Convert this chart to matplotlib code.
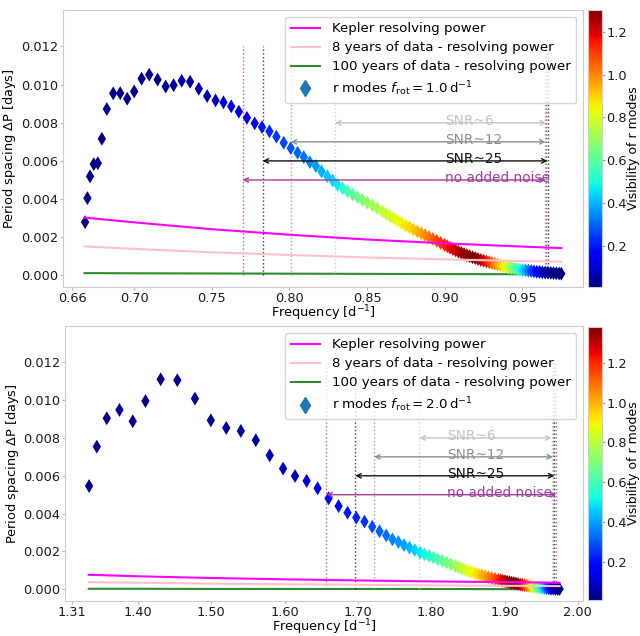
import numpy as np
import matplotlib
matplotlib.use('Agg')
import matplotlib.pyplot as plt
from matplotlib.lines import Line2D
from matplotlib.ticker import FormatStrFormatter

plt.rcParams['font.family'] = 'DejaVu Sans'
plt.rcParams['font.size'] = 9.3

# ---- top panel, f_rot = 1.0 d^-1 ----
freq_top = [0.6684, 0.6699, 0.6716, 0.6740, 0.6766, 0.6792, 0.6824, 0.6865, 0.6910, 0.6955,
            0.7000, 0.7048, 0.7097, 0.7151, 0.7203, 0.7254, 0.7306, 0.7360, 0.7416, 0.7470,
            0.7524, 0.7575, 0.7625, 0.7674, 0.7726, 0.7776, 0.7823, 0.7871, 0.7916, 0.7963,
            0.8008, 0.8052, 0.8092, 0.8131, 0.8170, 0.8206, 0.8243, 0.8278, 0.8310,
            0.8342, 0.8374, 0.8406, 0.8438, 0.8470, 0.8502, 0.8534, 0.8566, 0.8598,
            0.8623, 0.8648, 0.8673, 0.8698, 0.8723, 0.8748, 0.8773, 0.8798, 0.8823, 0.8848,
            0.8873, 0.8898, 0.8923, 0.8948, 0.8973, 0.8998,
            0.9016, 0.9034, 0.9052, 0.9070, 0.9088, 0.9106, 0.9124, 0.9142, 0.9160, 0.9178,
            0.9196, 0.9214, 0.9232, 0.9250, 0.9268, 0.9286, 0.9304, 0.9322, 0.9340, 0.9358,
            0.9376, 0.9394, 0.9412, 0.9430, 0.9448, 0.9466, 0.9484, 0.9502, 0.9520, 0.9538,
            0.9556, 0.9574, 0.9592, 0.9610, 0.9628, 0.9646, 0.9664, 0.9682, 0.9700, 0.9718,
            0.9736, 0.9750]
dp_top = [0.00279, 0.00405, 0.00519, 0.00583, 0.00588, 0.00716, 0.00872, 0.00954, 0.00955, 0.00926,
          0.00964, 0.01031, 0.01052, 0.01026, 0.00990, 0.00997, 0.01020, 0.01015, 0.00978, 0.00940,
          0.00917, 0.00907, 0.00886, 0.00858, 0.00826, 0.00797, 0.00777, 0.00755, 0.00727, 0.00695,
          0.00667, 0.00643, 0.00620, 0.00594, 0.00573, 0.00545, 0.00520, 0.00498, 0.00475,
          0.00457, 0.00441, 0.00425, 0.00410, 0.00395, 0.00380, 0.00366, 0.00351, 0.00335,
          0.00323, 0.00311, 0.00299, 0.00286, 0.00274, 0.00262, 0.00251, 0.00241, 0.00231, 0.00221,
          0.00211, 0.00201, 0.00191, 0.00181, 0.00170, 0.00160,
          0.00153, 0.00145, 0.00138, 0.00131, 0.00124, 0.00118, 0.00112, 0.00106, 0.00101, 0.00095,
          0.00091, 0.00086, 0.00081, 0.00077, 0.00073, 0.00069, 0.00065, 0.00061, 0.00057, 0.00053,
          0.00049, 0.00045, 0.00042, 0.00039, 0.00036, 0.00033, 0.00030, 0.00028, 0.00027, 0.00025,
          0.00023, 0.00021, 0.00019, 0.00018, 0.00016, 0.00015, 0.00014, 0.00013, 0.00012, 0.00011,
          0.00010, 0.00009]
vis_top = [0.02, 0.02, 0.02, 0.02, 0.02, 0.02, 0.03, 0.03, 0.03, 0.03,
           0.03, 0.03, 0.04, 0.04, 0.04, 0.05, 0.05, 0.05, 0.06, 0.07,
           0.08, 0.10, 0.12, 0.14, 0.16, 0.18, 0.20, 0.22, 0.24, 0.26,
           0.28, 0.30, 0.32, 0.34, 0.37, 0.39, 0.42, 0.44, 0.47,
           0.52, 0.56, 0.60, 0.63, 0.66, 0.69, 0.71, 0.73, 0.76,
           0.78, 0.79, 0.81, 0.83, 0.85, 0.87, 0.89, 0.91, 0.94, 0.96,
           0.99, 1.02, 1.05, 1.08, 1.11, 1.13,
           1.14, 1.17, 1.19, 1.21, 1.23, 1.25, 1.27, 1.28, 1.29, 1.30,
           1.30, 1.28, 1.25, 1.21, 1.16, 1.11, 1.06, 1.01, 0.96, 0.91,
           0.86, 0.80, 0.74, 0.68, 0.62, 0.56, 0.50, 0.44, 0.38, 0.32,
           0.26, 0.21, 0.16, 0.12, 0.09, 0.06, 0.04, 0.03, 0.02, 0.01,
           0.01, 0.01]

res_f_top = [0.668, 0.70, 0.75, 0.80, 0.85, 0.90, 0.95, 0.975]
kepler_top = [0.00303, 0.00278, 0.00242, 0.00213, 0.00188, 0.00168, 0.00151, 0.00143]
yr8_top = [0.00152, 0.00139, 0.00121, 0.00107, 0.00094, 0.00084, 0.00075, 0.00072]
yr100_top = [0.00012, 0.00011, 0.00010, 0.00009, 0.00008, 0.00007, 0.00006, 0.00006]

# ---- bottom panel, f_rot = 2.0 d^-1 ----
freq_bot = [1.3335, 1.3440, 1.3576, 1.3749, 1.3930, 1.4103, 1.4311, 1.4538, 1.4778, 1.4995,
            1.5205, 1.5404, 1.5608, 1.5798, 1.5980, 1.6143, 1.6301, 1.6451, 1.6600, 1.6737,
            1.6859, 1.6978, 1.7090, 1.7195, 1.7295, 1.7386, 1.7471, 1.7553, 1.7630, 1.7703,
            1.7776, 1.7848,
            1.7910, 1.7970, 1.8030, 1.8090, 1.8150, 1.8210, 1.8270, 1.8330,
            1.8375, 1.8420, 1.8465, 1.8510, 1.8555, 1.8600, 1.8645, 1.8690, 1.8735, 1.8780,
            1.8825, 1.8870, 1.8915,
            1.8945, 1.8975, 1.9005, 1.9035, 1.9065, 1.9095, 1.9125, 1.9155, 1.9185, 1.9215,
            1.9245, 1.9275, 1.9305, 1.9335, 1.9365, 1.9395, 1.9425, 1.9455, 1.9485, 1.9515,
            1.9545, 1.9575, 1.9605, 1.9635, 1.9665, 1.9695, 1.9725, 1.9750]
dp_bot = [0.00546, 0.00754, 0.00904, 0.00948, 0.00888, 0.00995, 0.01110, 0.01105, 0.01008, 0.00893,
          0.00853, 0.00837, 0.00788, 0.00708, 0.00638, 0.00599, 0.00573, 0.00534, 0.00481, 0.00440,
          0.00405, 0.00379, 0.00358, 0.00331, 0.00307, 0.00285, 0.00264, 0.00250, 0.00234, 0.00220,
          0.00208, 0.00194,
          0.00185, 0.00177, 0.00168, 0.00159, 0.00150, 0.00141, 0.00132, 0.00123,
          0.00116, 0.00110, 0.00103, 0.00097, 0.00091, 0.00085, 0.00079, 0.00074, 0.00069, 0.00064,
          0.00059, 0.00055, 0.00050,
          0.00048, 0.00045, 0.00043, 0.00040, 0.00038, 0.00035, 0.00033, 0.00031, 0.00028, 0.00026,
          0.00024, 0.00022, 0.00020, 0.00018, 0.00016, 0.00014, 0.00012, 0.00010, 0.00009, 0.00008,
          0.00007, 0.00006, 0.00005, 0.00004, 0.00003, 0.00003, 0.00002, 0.00002]
vis_bot = [0.03, 0.03, 0.03, 0.03, 0.03, 0.03, 0.03, 0.04, 0.04, 0.04,
           0.05, 0.05, 0.06, 0.08, 0.09, 0.11, 0.12, 0.14, 0.17, 0.19,
           0.21, 0.23, 0.25, 0.28, 0.31, 0.33, 0.36, 0.38, 0.40, 0.43,
           0.46, 0.49,
           0.52, 0.55, 0.58, 0.62, 0.65, 0.68, 0.71, 0.74,
           0.77, 0.80, 0.83, 0.86, 0.89, 0.92, 0.95, 0.99, 1.02, 1.06,
           1.10, 1.14, 1.19,
           1.23, 1.27, 1.31, 1.34, 1.36, 1.38, 1.38, 1.37, 1.35, 1.31,
           1.25, 1.18, 1.10, 1.01, 0.92, 0.83, 0.74, 0.65, 0.56, 0.47,
           0.38, 0.29, 0.21, 0.14, 0.08, 0.04, 0.02, 0.01]

res_f_bot = [1.333, 1.40, 1.50, 1.60, 1.70, 1.80, 1.90, 1.975]
kepler_bot = [0.00077, 0.00069, 0.00060, 0.00053, 0.00047, 0.00042, 0.00038, 0.00035]
yr8_bot = [0.00038, 0.00035, 0.00030, 0.00027, 0.00024, 0.00021, 0.00019, 0.00017]
yr100_bot = [0.00003, 0.00003, 0.00002, 0.00002, 0.00002, 0.00002, 0.00001, 0.00001]

# noise cases: label, colour, arrow height, start / end frequency per panel
noise_labels = ['SNR~6', 'SNR~12', 'SNR~25', 'no added noise']
noise_colors = ['#c4c4c4', '#8e8e8e', '#111111', '#a33aa3']
noise_levels = [0.0080, 0.0070, 0.0060, 0.0050]
start_top = [0.8293, 0.8008, 0.7827, 0.7698]
end_top = [0.9652, 0.9648, 0.9662, 0.9650]
start_bot = [1.7839, 1.7222, 1.6964, 1.6570]
end_bot = [1.9640, 1.9660, 1.9680, 1.9705]

xticks_top = [0.66, 0.70, 0.75, 0.80, 0.85, 0.90, 0.95]
xticks_bot = [1.31, 1.40, 1.50, 1.60, 1.70, 1.80, 1.90, 2.00]
cb_ticks = [0.2, 0.4, 0.6, 0.8, 1.0, 1.2]


def draw_panel(ax, cax, freq, dp, vis, vmax, res_f, kep, yr8, yr100,
               starts, ends, text_x, xticks, xlim, frot):
    ax.plot(res_f, yr100, color='#2e8b2e', lw=1.5, zorder=1)
    sc = ax.scatter(freq, dp, c=vis, cmap='jet', vmin=0.01, vmax=vmax,
                    marker='d', s=50, linewidths=0, zorder=2)
    ax.plot(res_f, kep, color='magenta', lw=1.5, zorder=3)
    ax.plot(res_f, yr8, color='pink', lw=1.5, zorder=3)

    for lab, col, lev, x0, x1 in zip(noise_labels, noise_colors, noise_levels, starts, ends):
        ax.vlines([x0, x1], 0, 0.012, colors=col, linestyles=':', lw=1.0, alpha=0.8, zorder=1)
        ax.annotate('', xy=(x1, lev), xytext=(x0, lev),
                    arrowprops=dict(arrowstyle='<->', color=col, lw=1.0,
                                    shrinkA=0, shrinkB=0, mutation_scale=8))
        ax.text(text_x, lev - 0.0001, lab, color=col, fontsize=9.8, va='baseline')

    handles = [Line2D([], [], color='magenta', lw=1.5),
               Line2D([], [], color='pink', lw=1.5),
               Line2D([], [], color='#2e8b2e', lw=1.5),
               Line2D([], [], color='#1f77b4', marker='d', ls='', markersize=8.5)]
    labels = ['Kepler resolving power', '8 years of data - resolving power',
              '100 years of data - resolving power',
              r'r modes $f_{\rm rot} = %.1f\,{\rm d}^{-1}$' % frot]
    leg = ax.legend(handles, labels, loc='upper right', fontsize=9.6,
                    handlelength=2.2, handletextpad=0.9, labelspacing=0.45)
    leg.set_zorder(5)

    ax.set_xlim(*xlim)
    ax.set_ylim(-0.0006, 0.0139)
    ax.set_xticks(xticks)
    ax.xaxis.set_major_formatter(FormatStrFormatter('%.2f'))
    ax.set_yticks(np.arange(0, 0.0121, 0.002))
    ax.yaxis.set_major_formatter(FormatStrFormatter('%.3f'))
    ax.set_xlabel(r'Frequency [d$^{-1}$]', labelpad=-1)
    ax.set_ylabel(r'Period spacing $\Delta$P [days]', labelpad=2)
    for s in ax.spines.values():
        s.set_color('#cccccc')
    ax.tick_params(color='#bbbbbb', labelcolor='#1a1a1a', length=2, pad=1.5)

    cb = plt.colorbar(sc, cax=cax)
    cb.set_ticks(cb_ticks)
    cb.ax.yaxis.set_major_formatter(FormatStrFormatter('%.1f'))
    cb.set_label('Visibility of r modes', labelpad=0, fontsize=9)
    cb.outline.set_edgecolor('#cccccc')
    cb.ax.tick_params(color='#999999', labelcolor='#1a1a1a', length=2, pad=1.5)


fig = plt.figure(figsize=(6.4, 6.36), dpi=100)
ax1 = fig.add_axes([0.098, 0.549, 0.813, 0.435])
cax1 = fig.add_axes([0.918, 0.549, 0.022, 0.435])
ax2 = fig.add_axes([0.102, 0.0555, 0.809, 0.4315])
cax2 = fig.add_axes([0.918, 0.057, 0.022, 0.429])

draw_panel(ax1, cax1, freq_top, dp_top, vis_top, 1.30, res_f_top, kepler_top, yr8_top, yr100_top,
           start_top, end_top, 0.900, xticks_top, (0.654, 0.989), 1.0)
draw_panel(ax2, cax2, freq_bot, dp_bot, vis_bot, 1.38, res_f_bot, kepler_bot, yr8_bot, yr100_bot,
           start_bot, end_bot, 1.821, xticks_bot, (1.301, 2.007), 2.0)

fig.savefig('out.png', dpi=100)
